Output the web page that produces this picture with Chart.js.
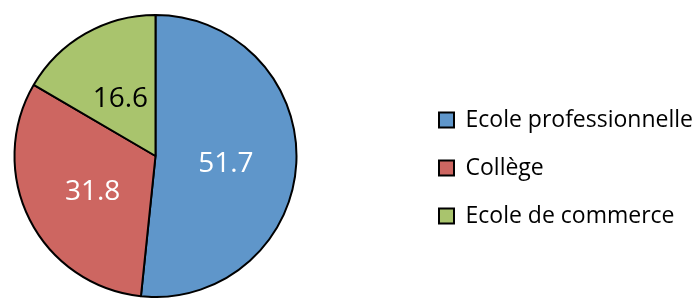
<!DOCTYPE html>
<html>
<head>
<meta charset="utf-8">
<script src="https://cdn.jsdelivr.net/npm/chart.js@4"></script>
<style>
  body { margin: 0; background: #fff; }
</style>
</head>
<body>
<canvas id="myChart" width="692" height="298"></canvas>
<script>
const categories = ["Ecole professionnelle", "Collège", "Ecole de commerce"];
const shares = [51.7, 31.8, 16.6];
const sliceColors = ["#5F96CA", "#CD6661", "#A9C46D"];
const valueColors = ["#ffffff", "#ffffff", "#000000"];

// values written in the middle of each slice
const sliceLabels = {
  id: "sliceLabels",
  afterDatasetsDraw(chart) {
    const ctx = chart.ctx;
    const meta = chart.getDatasetMeta(0);
    ctx.save();
    ctx.font = "28px 'Open Sans'";
    ctx.textAlign = "center";
    ctx.textBaseline = "middle";
    meta.data.forEach((arc, i) => {
      const p = arc.getCenterPoint();
      ctx.fillStyle = valueColors[i];
      ctx.fillText(shares[i].toFixed(1), p.x, p.y + 4);
    });
    ctx.restore();
  },
};

// pie stays on the left, legend goes to the right side
const legendPlacement = {
  id: "legendPlacement",
  afterLayout(chart) {
    const legend = chart.legend;
    legend.left = 439 - legend.options.labels.padding;
    legend.right = chart.width;
    legend.width = legend.right - legend.left;
    legend.top += 12;
    legend.bottom += 12;
  },
};

const ctx = document.getElementById("myChart");

new Chart(ctx, {
  type: "pie",
  data: {
    labels: categories,
    datasets: [
      {
        data: shares,
        backgroundColor: sliceColors,
        borderColor: "#000000",
        borderWidth: 2,
      },
    ],
  },
  options: {
    responsive: false,
    animation: false,
    devicePixelRatio: 1,
    layout: {
      padding: { left: 13, top: 14, right: 144, bottom: 0 },
    },
    plugins: {
      tooltip: { enabled: false },
      legend: {
        position: "right",
        maxWidth: 250,
        labels: {
          color: "#000000",
          boxWidth: 15,
          boxHeight: 15,
          padding: 25,
          font: {
            family: "'Open Sans'",
            size: 23,
          },
        },
      },
    },
  },
  plugins: [sliceLabels, legendPlacement],
});
</script>
</body>
</html>
